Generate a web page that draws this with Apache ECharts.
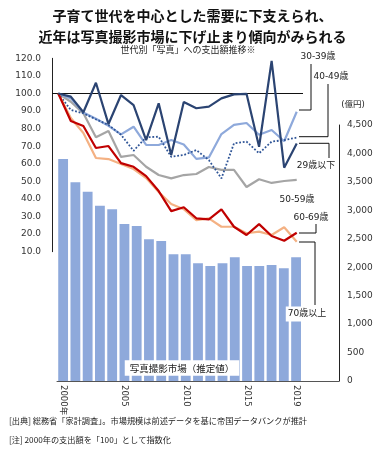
<!DOCTYPE html>
<html><head><meta charset="utf-8">
<script src="https://cdn.jsdelivr.net/npm/echarts@6/dist/echarts.min.js"></script>
<style>html,body{margin:0;padding:0;background:#fff}#c{width:385px;height:450px}</style>
</head><body><div id="c"></div>
<script>
const years = ['2000','2001','2002','2003','2004','2005','2006','2007','2008','2009','2010','2011','2012','2013','2014','2015','2016','2017','2018','2019'];
const tickLabels = ['2000年','2005','2010','2015','2019'];
const leftTicks = [10, 120, 10];   // min, max, step (index)
const rightTicks = [0, 4500, 500]; // min, max, step (億円)
const market = [3903, 3493, 3328, 3082, 3018, 2760, 2725, 2491, 2461, 2227, 2227, 2069, 2022, 2069, 2175, 2022, 2022, 2039, 1981, 2175];
const age29 = [100, 98.2, 89.3, 106.1, 82.6, 99.1, 93.4, 73.5, 94.4, 65, 95.1, 91.6, 92.5, 97.2, 99.5, 99.8, 69.7, 118.5, 57.8, 71.6];
const age30 = [100, 97.2, 89.2, 85.6, 81.6, 76.7, 81.1, 70.7, 70.7, 73.5, 71, 62.8, 63.6, 76.9, 82.1, 83.2, 76.5, 79.2, 72.8, 89.6];
const age40 = [100, 90.6, 88.7, 85.3, 82.1, 76.5, 67.4, 75.1, 75.4, 64, 65, 67.8, 62.1, 51.7, 71.6, 72.6, 66, 72.6, 73.5, 74.9];
const age50 = [100, 95.3, 88.7, 75.1, 78.6, 63.9, 65, 58.3, 53.6, 51.7, 53.6, 54.2, 58.2, 56.5, 56.5, 46.8, 51.2, 49.1, 50.2, 50.8];
const age60 = [100, 84.3, 81.5, 69, 70.1, 60.4, 58.3, 53, 44.5, 33.1, 35.3, 29, 28.4, 34.1, 24.2, 19.5, 25.7, 18.9, 16.2, 20.8];
const age70 = [100, 86, 77.5, 63.3, 62.7, 59.9, 57, 51.9, 44, 37.1, 34.2, 28, 29, 24.2, 24.2, 20.5, 21.4, 19.5, 23.9, 15.7];
const pad = ['', '', ''];

const num = "'DejaVu Sans','Noto Sans CJK JP',sans-serif";
const jp = "'Noto Sans CJK JP',sans-serif";
const chart = echarts.init(document.getElementById('c'), null, {renderer: 'canvas'});

function tickFor(y) { return y ? tickLabels.find(t => t.indexOf(y) === 0) : undefined; }

function txt(x, y, s, size, align, extra) {
  return Object.assign({type: 'text', x: x, y: y, z: 100,
    style: Object.assign({text: s, fontSize: size, fontFamily: num, fill: '#222', align: align || 'center', verticalAlign: 'middle'}, extra || {})});
}
function pl(points) {
  return {type: 'polyline', z: 99, shape: {points: points}, style: {stroke: '#111', lineWidth: 1, fill: null}};
}

const option = {
  backgroundColor: '#fff',
  animation: false,
  title: {
    text: '子育て世代を中心とした需要に下支えられ、\n近年は写真撮影市場に下げ止まり傾向がみられる',
    left: 'center', top: 0,
    textStyle: {fontSize: 14, fontWeight: 'bold', lineHeight: 21, fontFamily: jp, color: '#111', align: 'center'}
  },
  grid: [
    {left: 52, right: 82, top: 58.3, bottom: 198.3},
    {left: 57, right: 46, top: 125, bottom: 69}
  ],
  xAxis: [
    {gridIndex: 0, type: 'category', data: years, show: false},
    {gridIndex: 1, type: 'category', data: years.concat(pad),
      axisLine: {lineStyle: {color: '#555', width: 1}},
      axisTick: {show: false},
      axisLabel: {
        rotate: -90, margin: 4, fontSize: 8.5, fontFamily: num, color: '#333',
        interval: function (i, v) { return !!tickFor(v); },
        formatter: function (v) { return tickFor(v) || ''; }
      }
    }
  ],
  yAxis: [
    {gridIndex: 0, type: 'value', position: 'left', min: leftTicks[0], max: leftTicks[1], interval: leftTicks[2],
      axisLine: {show: true, lineStyle: {color: '#222', width: 1}}, axisTick: {show: false}, splitLine: {show: false},
      axisLabel: {margin: 11, fontSize: 9, fontFamily: num, color: '#333', formatter: function (v) { return v.toFixed(1); }}
    },
    {gridIndex: 1, type: 'value', position: 'right', min: rightTicks[0], max: rightTicks[1], interval: rightTicks[2],
      axisLine: {show: true, lineStyle: {color: '#222', width: 1}}, axisTick: {show: false}, splitLine: {show: false},
      axisLabel: {margin: 8, fontSize: 9, fontFamily: num, color: '#333',
        formatter: function (v) { return String(v).replace(/\B(?=(\d{3})+(?!\d))/g, ','); }}
    }
  ],
  series: [
    {name: '写真撮影市場', type: 'bar', xAxisIndex: 1, yAxisIndex: 1, data: market, barWidth: '80%',
      itemStyle: {color: '#8EA9DB'}, z: 1},
    {name: '50-59歳', type: 'line', xAxisIndex: 0, yAxisIndex: 0, data: age50, symbol: 'none', z: 3,
      lineStyle: {color: '#A5A5A5', width: 2.2},
      markLine: {silent: true, symbol: 'none', label: {show: false}, lineStyle: {color: '#111', width: 1.2, type: 'solid'},
        data: [{yAxis: 100}]}},
    {name: '30-39歳', type: 'line', xAxisIndex: 0, yAxisIndex: 0, data: age30, symbol: 'none', z: 4,
      lineStyle: {color: '#8EA9DB', width: 2.2}},
    {name: '40-49歳', type: 'line', xAxisIndex: 0, yAxisIndex: 0, data: age40, symbol: 'none', z: 5,
      lineStyle: {color: '#2F5597', width: 1.8, type: 'dotted'}},
    {name: '70歳以上', type: 'line', xAxisIndex: 0, yAxisIndex: 0, data: age70, symbol: 'none', z: 6,
      lineStyle: {color: '#F4B183', width: 2.2}},
    {name: '60-69歳', type: 'line', xAxisIndex: 0, yAxisIndex: 0, data: age60, symbol: 'none', z: 7,
      lineStyle: {color: '#C00000', width: 2.2}},
    {name: '29歳以下', type: 'line', xAxisIndex: 0, yAxisIndex: 0, data: age29, symbol: 'none', z: 8,
      lineStyle: {color: '#2B4472', width: 2.2}}
  ],
  graphic: [
    txt(188, 50, '世代別「写真」への支出額推移※', 9, 'center', {fontFamily: jp}),
    txt(353, 105, '(億円)', 8.5, 'center'),
    txt(318, 57, '30-39歳', 9),
    pl([[299, 110], [311, 110], [311, 64]]),
    txt(331, 77, '40-49歳', 9),
    pl([[299, 136.7], [328, 136.7], [328, 84]]),
    txt(316, 166, '29歳以下', 9),
    pl([[299, 143.3], [329, 143.3], [329, 158]]),
    txt(297, 200, '50-59歳', 9),
    txt(311, 218, '60-69歳', 9),
    pl([[299, 233], [316, 233], [316, 224]]),
    pl([[299, 242], [315, 242], [315, 305]]),
    txt(307, 314, '70歳以上', 9, 'center', {backgroundColor: '#fff', padding: [3, 2, 3, 2]}),
    txt(182, 368, '写真撮影市場（推定値）', 9.5, 'center', {fontFamily: jp, backgroundColor: '#fff', padding: [3, 5, 3, 5]}),
    txt(9, 421, '[出典] 総務省「家計調査」。市場規模は前述データを基に帝国データバンクが推計', 8.2, 'left', {fontFamily: jp}),
    txt(9, 440, '[注] 2000年の支出額を「100」として指数化', 8.2, 'left', {fontFamily: jp})
  ]
};
chart.setOption(option);
</script></body></html>
